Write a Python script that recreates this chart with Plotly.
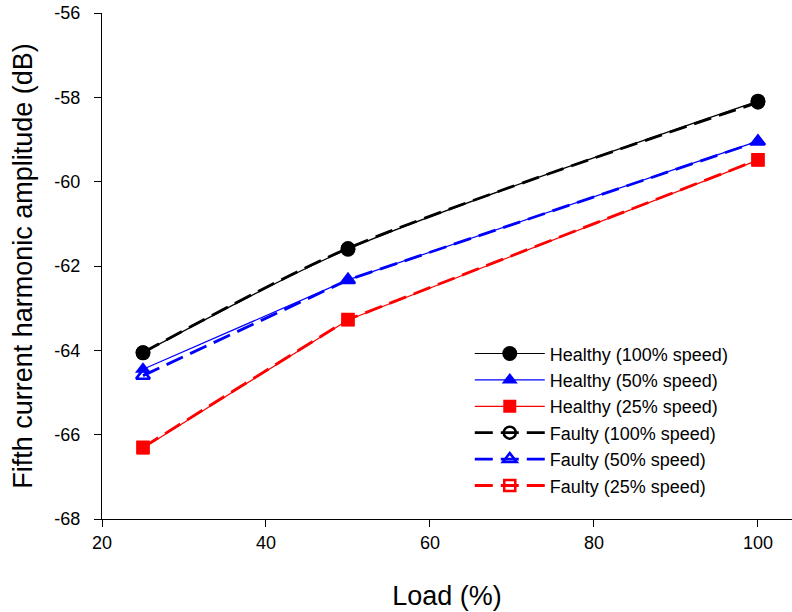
import plotly.graph_objects as go

# Load levels (%) and fifth harmonic amplitude (dB) per condition
load = [25, 50, 100]

healthy_100 = [-64.06, -61.60, -58.09]
healthy_50 = [-64.45, -62.33, -59.04]
healthy_25 = [-66.32, -63.28, -59.49]
faulty_100 = [-64.05, -61.58, -58.12]
faulty_50 = [-64.60, -62.33, -59.05]
faulty_25 = [-66.30, -63.27, -59.48]

x_ticks = [20, 40, 60, 80, 100]
y_ticks = [-68, -66, -64, -62, -60, -58, -56]
y_ticktext = [str(v) for v in y_ticks]  # plain hyphen, not unicode minus

series = [
    ("Healthy (100% speed)", healthy_100, "black", "circle", "solid", 1.2, 15, "spline"),
    ("Healthy (50% speed)", healthy_50, "blue", "triangle-up", "solid", 1.2, 14, "linear"),
    ("Healthy (25% speed)", healthy_25, "red", "square", "solid", 1.2, 13, "linear"),
    ("Faulty (100% speed)", faulty_100, "black", "circle-open", "18px,8px", 2.8, 12, "spline"),
    ("Faulty (50% speed)", faulty_50, "blue", "triangle-up-open", "18px,8px", 2.8, 12, "linear"),
    ("Faulty (25% speed)", faulty_25, "red", "square-open", "18px,8px", 2.8, 11, "linear"),
]

fig = go.Figure()
for name, vals, color, symbol, dash, lw, msize, shape in series:
    fig.add_trace(go.Scatter(
        x=load, y=vals, name=name, mode="lines+markers",
        line=dict(color=color, width=lw, dash=dash, shape=shape, smoothing=0.8),
        marker=dict(symbol=symbol, size=msize, color=color,
                    line=dict(color=color, width=2.5 if "open" in symbol else 0)),
    ))

fig.update_xaxes(
    title_text="Load (%)", range=[20, 104.15], tickvals=x_ticks,
    showline=True, linecolor="black", linewidth=1.2, ticks="outside", ticklen=7,
    tickcolor="black", showgrid=False, zeroline=False, automargin=False,
    tickfont=dict(size=18, color="black"), title_font=dict(size=27, color="black"),
    title_standoff=34,
)
fig.update_yaxes(
    title_text="Fifth current harmonic amplitude (dB)", range=[-68, -56],
    tickvals=y_ticks, ticktext=y_ticktext, ticklabelstandoff=10,
    ticklabeloverflow="allow",
    showline=True, linecolor="black", linewidth=1.2, ticks="outside", ticklen=7,
    tickcolor="black", showgrid=False, zeroline=False, automargin=False,
    tickfont=dict(size=18, color="black"), title_font=dict(size=27, color="black"),
    title_standoff=13,
)

fig.update_layout(
    width=792, height=612,
    margin=dict(l=102, r=0, t=13, b=93),
    plot_bgcolor="white", paper_bgcolor="white",
    font=dict(family="Liberation Sans, Arial, sans-serif", color="black"),
    showlegend=True,
    legend=dict(x=0.533, y=0.363, xanchor="left", yanchor="top",
                bgcolor="rgba(0,0,0,0)", font=dict(size=18),
                itemwidth=70, tracegroupgap=0),
)

# drop the page's default 8px body margin so the figure sits at the window origin
fig.write_html("out.html", config={"displayModeBar": False},
               post_script="document.body.style.margin='0';")
